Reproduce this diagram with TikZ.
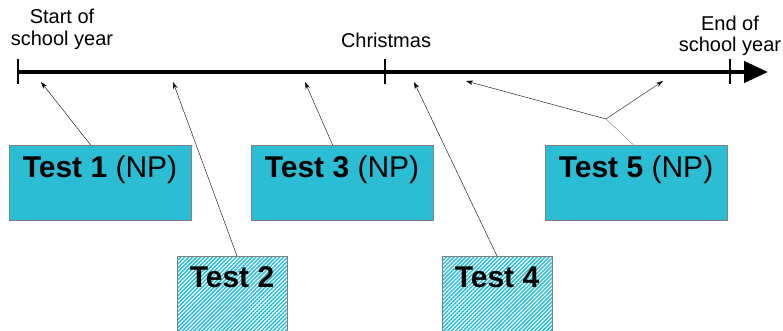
\documentclass[tikz,border=0pt]{standalone}
\usepackage{fontspec}
\setmainfont{Liberation Sans}
\usetikzlibrary{arrows.meta,patterns.meta}
\definecolor{testblue}{RGB}{43,189,212}

\begin{document}
\begin{tikzpicture}[x=1pt, y=-1pt, semithick,
np/.style={draw=gray, line width=0.8pt, fill=testblue, inner sep=0pt, minimum width=182pt, text height=32pt, text depth=43pt, font=\fontsize{30}{32}\selectfont},
plain/.style={draw=gray, line width=0.8pt, pattern={Lines[angle=45,distance=2.8pt,line width=1.5pt]}, pattern color=testblue, inner sep=0pt, minimum width=110pt, text height=31pt, text depth=60pt, font=\fontsize{30}{32}\selectfont\bfseries},
when/.style={align=center, font=\fontsize{20}{21.5}\selectfont},
pointer/.style={thin, -{Stealth[length=7pt,width=4.5pt]}}]
\clip (0,0) rectangle (783,331);
% time line
\coordinate (start) at (18,72);
\coordinate (xmas) at (385,72);
\coordinate (end) at (730,72);
\coordinate (tip) at (768,72);
\draw[line width=4.5pt, -{Triangle[length=24pt,width=21pt]}] (start) -- (tip);
\foreach \t in {start,xmas,end}
    \draw[line width=1.6pt] ([yshift=-12pt]\t) -- ([yshift=13pt]\t);
\node[when, anchor=base] (s) at (62,45.5) {Start of\\school year};
\node[when, anchor=base] (x) at (386,48) {Christmas};
\node[when, anchor=base] (e) at (730,52) {End of\\school year};
% tests
\node[np, anchor=north] (t1) at (100,145) {\textbf{Test 1} (NP)};
\node[np, anchor=north] (t3) at (342,145) {\textbf{Test 3} (NP)};
\node[np, anchor=north] (t5) at (636,145) {\textbf{Test 5} (NP)};
\node[plain, anchor=north] (t2) at (232,256) {Test 2};
\node[plain, anchor=north] (t4) at (497,256) {Test 4};
% pointers
\coordinate (p1) at (41,82);
\coordinate (p2) at (173,82);
\coordinate (p3) at (305,82);
\coordinate (p4) at (414,82);
\coordinate (p5a) at (466,81);
\coordinate (p5b) at (663,81);
\coordinate (fork) at (606,119);
\draw[pointer] (t1.north west) ++(82pt,0) -- (p1);
\draw[pointer] (t2.north) ++(5pt,0) -- (p2);
\draw[pointer] (t3.north west) ++(82pt,0) -- (p3);
\draw[pointer] (t4.north) -- (p4);
\draw[gray, thin] (t5.north west) ++(89pt,0) -- (fork);
\draw[pointer] (fork) -- (p5a);
\draw[pointer] (fork) -- (p5b);
\end{tikzpicture}
\end{document}
